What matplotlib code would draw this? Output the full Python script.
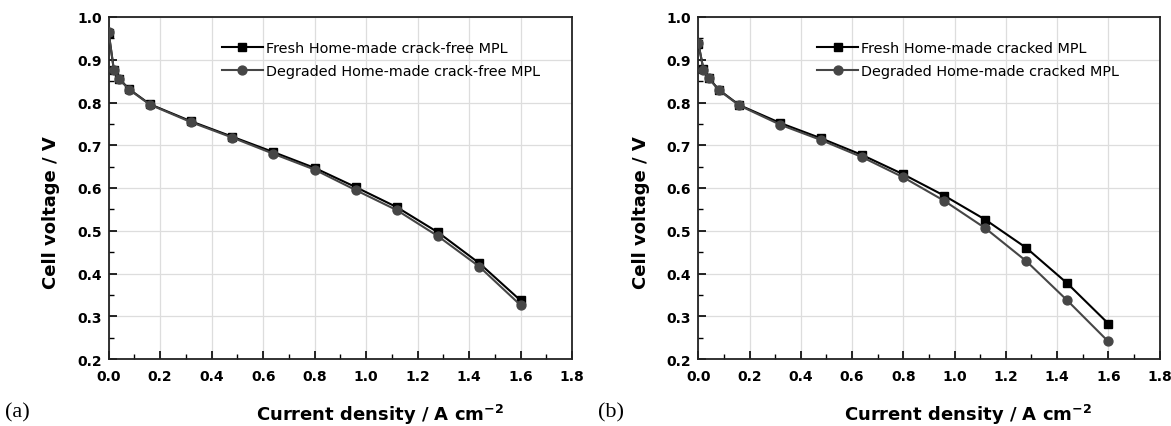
import matplotlib
matplotlib.use("Agg")
import matplotlib.pyplot as plt
from matplotlib.ticker import MultipleLocator

current = [0.0, 0.02, 0.04, 0.08, 0.16, 0.32, 0.48, 0.64, 0.80, 0.96, 1.12, 1.28, 1.44, 1.60]

# (a) crack-free MPL
fresh_a = [0.962, 0.877, 0.856, 0.831, 0.796, 0.756, 0.720, 0.684, 0.647, 0.602, 0.555, 0.496, 0.424, 0.337]
degr_a = [0.964, 0.876, 0.855, 0.830, 0.795, 0.754, 0.718, 0.680, 0.643, 0.595, 0.548, 0.487, 0.416, 0.326]
# (b) cracked MPL
fresh_b = [0.938, 0.878, 0.858, 0.830, 0.794, 0.752, 0.716, 0.677, 0.632, 0.582, 0.526, 0.460, 0.377, 0.283]
degr_b = [0.940, 0.877, 0.857, 0.829, 0.793, 0.748, 0.712, 0.672, 0.625, 0.570, 0.506, 0.429, 0.337, 0.241]

labels_a = ["Fresh Home-made crack-free MPL", "Degraded Home-made crack-free MPL"]
labels_b = ["Fresh Home-made cracked MPL", "Degraded Home-made cracked MPL"]
xticks = [0.0, 0.2, 0.4, 0.6, 0.8, 1.0, 1.2, 1.4, 1.6, 1.8]
yticks = [0.2, 0.3, 0.4, 0.5, 0.6, 0.7, 0.8, 0.9, 1.0]

plt.rcParams['font.family'] = ['DejaVu Sans']

fig = plt.figure(figsize=(11.71, 4.27), dpi=100)
W, H = 1171, 427
ax_a = fig.add_axes([108.7 / W, 1 - 360 / H, (572 - 108.7) / W, (360 - 18) / H])
ax_b = fig.add_axes([698.3 / W, 1 - 360 / H, (1159.5 - 698.3) / W, (360 - 18) / H])

for ax, f, d, labs, lx in [(ax_a, fresh_a, degr_a, labels_a, 0.245),
                            (ax_b, fresh_b, degr_b, labels_b, 0.258)]:
    ax.plot(current, f, color='black', lw=1.5, marker='s', ms=5.8, mfc='black', mec='black', label=labs[0], zorder=3)
    ax.plot(current, d, color='#464646', lw=1.5, marker='o', ms=6.4, mfc='#464646', mec='#464646', label=labs[1], zorder=4)
    ax.set_xlim(0, 1.8)
    ax.set_ylim(0.2, 1.0)
    ax.set_xticks(xticks)
    ax.set_yticks(yticks)
    ax.xaxis.set_minor_locator(MultipleLocator(0.1))
    ax.yaxis.set_minor_locator(MultipleLocator(0.05))
    ax.set_xticklabels([f"{v:.1f}" for v in xticks], fontweight='bold', fontsize=10)
    ax.set_yticklabels([f"{v:.1f}" for v in yticks], fontweight='bold', fontsize=10)
    ax.tick_params(which='major', direction='in', length=6, width=1.2)
    ax.tick_params(axis='x', which='major', pad=7)
    ax.tick_params(axis='y', which='major', pad=5)
    ax.tick_params(which='minor', direction='in', length=3.5, width=1.0)
    ax.grid(True, which='major', color='#dddddd', lw=0.9)
    ax.set_axisbelow(True)
    for s in ax.spines.values():
        s.set_linewidth(1.3)
        s.set_color('#222222')
    ax.set_xlabel(r"Current density / A cm$^{\mathbf{-2}}$", fontweight='bold', fontsize=13)
    ax.xaxis.set_label_coords(0.585, -0.125)
    ax.set_ylabel("Cell voltage / V", fontweight='bold', fontsize=13)
    ax.yaxis.set_label_coords(-0.105, 0.43)
    ax.legend(loc='upper left', bbox_to_anchor=(lx, 0.93), frameon=False, fontsize=10.4,
              handlelength=2.8, handletextpad=0.25, labelspacing=0.65, borderaxespad=0,
              borderpad=0)

fig.text(5 / W, 1 - 413 / H, "(a)", family='Liberation Serif', fontsize=16, va='center', ha='left')
fig.text(598 / W, 1 - 413 / H, "(b)", family='Liberation Serif', fontsize=16, va='center', ha='left')

fig.savefig("out.png", dpi=100)
